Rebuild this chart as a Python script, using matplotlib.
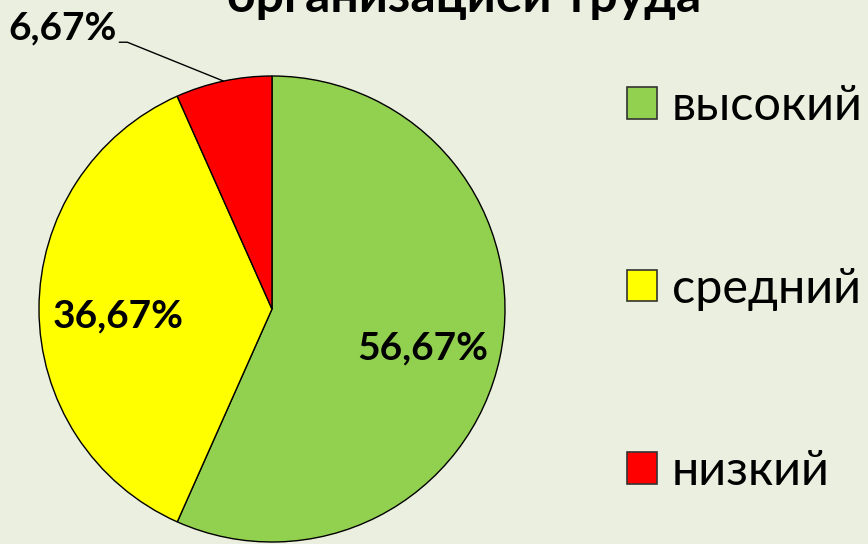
import matplotlib.pyplot as plt
import numpy as np
from matplotlib.patches import Patch

plt.rcParams["font.family"] = ["Lato", "DejaVu Sans"]

categories = ["высокий", "средний", "низкий"]
shares = [56.67, 36.67, 6.67]
colors = ["#92D050", "#FFFF00", "#FF0000"]
title = "организацией труда"

bg = "#EBEFDF"

fig = plt.figure(figsize=(8.68, 5.44), dpi=100, facecolor=bg)
ax = fig.add_axes([39 / 868, 2 / 544, 466 / 868, 466 / 544])
ax.set_facecolor(bg)

wedges, _ = ax.pie(shares, colors=colors, startangle=90, counterclock=False,
                   radius=1, wedgeprops=dict(edgecolor="black", linewidth=1.0))
ax.set_xlim(-1, 1)
ax.set_ylim(-1, 1)
ax.set_aspect("equal")
ax.axis("off")

# percentages: two inside, the small one outside with a leader line
for w, val in zip(wedges, shares):
    mid = np.deg2rad((w.theta1 + w.theta2) / 2)
    label = f"{val:.2f}%".replace(".", ",")
    if val > 10:
        r = 0.66
        ax.text(r * np.cos(mid), r * np.sin(mid) - 0.03, label, ha="center", va="center",
                fontsize=28, fontweight="bold")
    else:
        px, py = np.cos(mid), np.sin(mid)
        ax.annotate(label, xy=(px, py), xytext=(-0.9, 1.205), ha="center", va="center",
                    fontsize=28, fontweight="bold", annotation_clip=False,
                    arrowprops=dict(arrowstyle="-", color="black", lw=1.0, relpos=(1, 0.1),
                                    shrinkA=0, shrinkB=0,
                                    connectionstyle="angle,angleA=0,angleB=-22,rad=0"))

fig.text(0.535, 1 - 12 / 544, title, ha="center", va="baseline",
         fontsize=36, fontweight="bold")

handles = [Patch(facecolor=c, edgecolor="#333333", linewidth=1.2) for c in colors]
fig.legend(handles, categories, loc="upper left", bbox_to_anchor=(627 / 868, 1 - 84 / 544),
           frameon=False, fontsize=35, handlelength=0.62, handleheight=0.62,
           handletextpad=0.3, labelspacing=2.85, borderpad=0, borderaxespad=0)

fig.savefig("out.png", dpi=100, facecolor=bg)
